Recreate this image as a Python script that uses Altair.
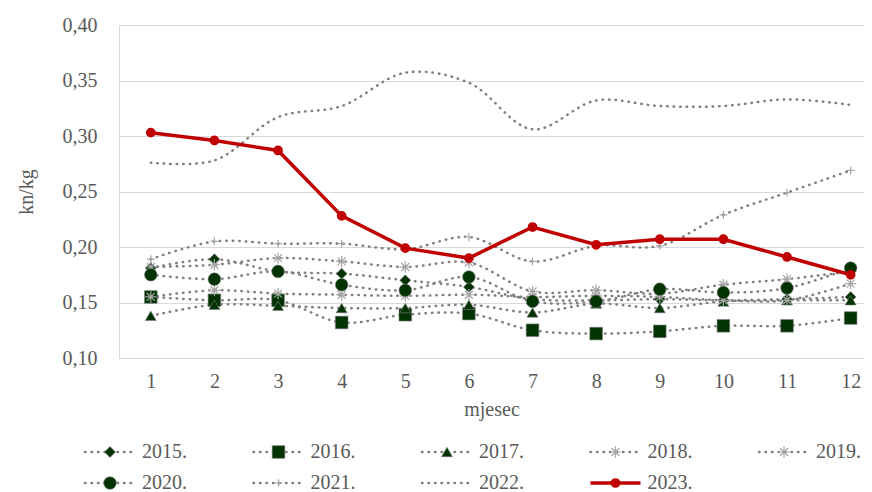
import altair as alt
import pandas as pd

months = list(range(1, 13))
years = ["2015.", "2016.", "2017.", "2018.", "2019.", "2020.", "2021.", "2022.", "2023."]
v2015 = [0.181, 0.189, 0.178, 0.176, 0.170, 0.164, 0.153, 0.152, 0.153, 0.152, 0.153, 0.155]
v2016 = [0.155, 0.152, 0.152, 0.132, 0.139, 0.140, 0.125, 0.122, 0.124, 0.129, 0.129, 0.136]
v2017 = [0.138, 0.148, 0.147, 0.145, 0.145, 0.148, 0.141, 0.149, 0.145, 0.151, 0.152, 0.152]
v2018 = [0.155, 0.161, 0.158, 0.157, 0.156, 0.157, 0.155, 0.156, 0.155, 0.152, 0.152, 0.167]
v2019 = [0.182, 0.184, 0.190, 0.187, 0.182, 0.186, 0.160, 0.161, 0.158, 0.166, 0.171, 0.178]
v2020 = [0.175, 0.171, 0.178, 0.166, 0.161, 0.173, 0.151, 0.151, 0.162, 0.159, 0.163, 0.181]
v2021 = [0.189, 0.205, 0.203, 0.203, 0.198, 0.209, 0.187, 0.201, 0.201, 0.229, 0.249, 0.269]
v2022 = [0.276, 0.278, 0.317, 0.327, 0.357, 0.348, 0.306, 0.332, 0.327, 0.327, 0.333, 0.328]
v2023 = [0.303, 0.296, 0.287, 0.228, 0.199, 0.190, 0.218, 0.202, 0.207, 0.207, 0.191, 0.175]
y_ticks = [0.10, 0.15, 0.20, 0.25, 0.30, 0.35, 0.40]

series = [v2015, v2016, v2017, v2018, v2019, v2020, v2021, v2022, v2023]
rows = []
for name, vals in zip(years, series):
    for m, v in zip(months, vals):
        rows.append({"year": name, "month": m, "value": v})
df = pd.DataFrame(rows)

legend_df = pd.DataFrame({
    "name": years,
    "col": [i % 5 for i in range(len(years))],
    "row": [i // 5 for i in range(len(years))],
})

FONT = "Liberation Serif"
TXT = "#595959"
GRID = "#d9d9d9"
GREEN = "#003300"
DOT = "#808080"
STARC = "#a6a6a6"
RED = "#c00000"
STAR = "M-1,0L1,0M0,-1L0,1M-0.7,-0.7L0.7,0.7M-0.7,0.7L0.7,-0.7"
PLUS = "M-1,0L1,0M0,-1L0,1"

MARKER_SPECS = [
    (["2015."], "diamond", 120, True),
    (["2016."], "square", 160, True),
    (["2017."], "triangle-up", 120, True),
    (["2018.", "2019."], STAR, 130, False),
    (["2020."], "circle", 160, True),
    (["2021."], PLUS, 60, False),
]

x_enc = alt.X(
    "month:Q",
    scale=alt.Scale(domain=[0.5, 12.21], nice=False, zero=False),
    axis=alt.Axis(values=months, format="d", title="mjesec", grid=False, ticks=False, tickSize=0,
                  labelPadding=13, titlePadding=8, domainColor=GRID, labelFontSize=20,
                  titleFontSize=20, labelColor=TXT, titleColor=TXT,
                  titleFontWeight="normal", labelFlush=False),
)
y_enc = alt.Y(
    "value:Q",
    scale=alt.Scale(domain=[0.10, 0.40], nice=False, zero=False),
    axis=alt.Axis(values=y_ticks, title="kn/kg", ticks=False, tickSize=0,
                  labelExpr="replace(format(datum.value, '.2f'), '.', ',')",
                  labelPadding=22, titlePadding=26, domainColor=GRID, gridColor=GRID,
                  labelFontSize=20, titleFontSize=20, labelColor=TXT, titleColor=TXT,
                  titleFontWeight="normal"),
)


def markers(src, field, names, shape, size, filled):
    if filled:
        kw = dict(filled=True, fill=GREEN, stroke=DOT, strokeWidth=0.6)
    else:
        kw = dict(filled=False, fill="transparent", stroke=STARC, strokeWidth=1.2)
    return src.transform_filter(
        alt.FieldOneOfPredicate(field=field, oneOf=names)
    ).mark_point(shape=shape, size=size, opacity=1, **kw)


base = alt.Chart(df)

gray_lines = base.transform_filter(alt.datum.year != "2023.").mark_line(
    interpolate="catmull-rom", strokeDash=[0.5, 6], strokeCap="round",
    strokeWidth=2.5, color=DOT,
).encode(x=x_enc, y=y_enc, detail="year:N")

main_marks = [
    markers(base, "year", n, s, z, f).encode(x="month:Q", y="value:Q")
    for n, s, z, f in MARKER_SPECS
]

red_line = base.transform_filter(alt.datum.year == "2023.").mark_line(
    color=RED, strokeWidth=3.5
).encode(x="month:Q", y="value:Q")
red_pts = base.transform_filter(alt.datum.year == "2023.").mark_point(
    filled=True, fill=RED, stroke=RED, size=60, opacity=1
).encode(x="month:Q", y="value:Q")

main = alt.layer(gray_lines, *main_marks, red_line, red_pts)

# legend drawn from the series names through its own scales
lbase = alt.Chart(legend_df)
lx = alt.X("col:Q", scale=alt.Scale(domain=[0, 4], range=[-9, 665]), axis=None)
ly = alt.Y("row:Q", scale=alt.Scale(domain=[0, 1], range=[427, 458]), axis=None)

leg_dots = lbase.transform_filter(alt.datum.name != "2023.").mark_rule(
    strokeDash=[0.5, 6], strokeCap="round", strokeWidth=2.5, color=DOT,
    xOffset=-25, x2Offset=25,
).encode(x=lx, x2="col:Q", y=ly)
leg_red = lbase.transform_filter(alt.datum.name == "2023.").mark_rule(
    strokeWidth=3.5, color=RED, xOffset=-25, x2Offset=25,
).encode(x="col:Q", x2="col:Q", y="row:Q")

leg_marks = [
    markers(lbase, "name", n, s, z, f).encode(x="col:Q", y="row:Q")
    for n, s, z, f in MARKER_SPECS
]
leg_red_pt = lbase.transform_filter(alt.datum.name == "2023.").mark_point(
    filled=True, fill=RED, stroke=RED, size=60, opacity=1
).encode(x="col:Q", y="row:Q")
leg_text = lbase.mark_text(
    align="left", baseline="middle", dx=32, fontSize=20, color=TXT
).encode(x="col:Q", y="row:Q", text="name:N")

legend = alt.layer(leg_dots, leg_red, *leg_marks, leg_red_pt, leg_text)

chart = alt.layer(main, legend).resolve_scale(x="independent", y="independent").properties(
    width=745, height=333,
    padding={"left": 8, "top": 7, "right": 0, "bottom": 0},
).configure_view(stroke=None).configure(
    background="white", font=FONT
).configure_axis(labelFont=FONT, titleFont=FONT).configure_text(font=FONT)

chart.save("out.html", embed_options={"renderer": "svg", "actions": False})
